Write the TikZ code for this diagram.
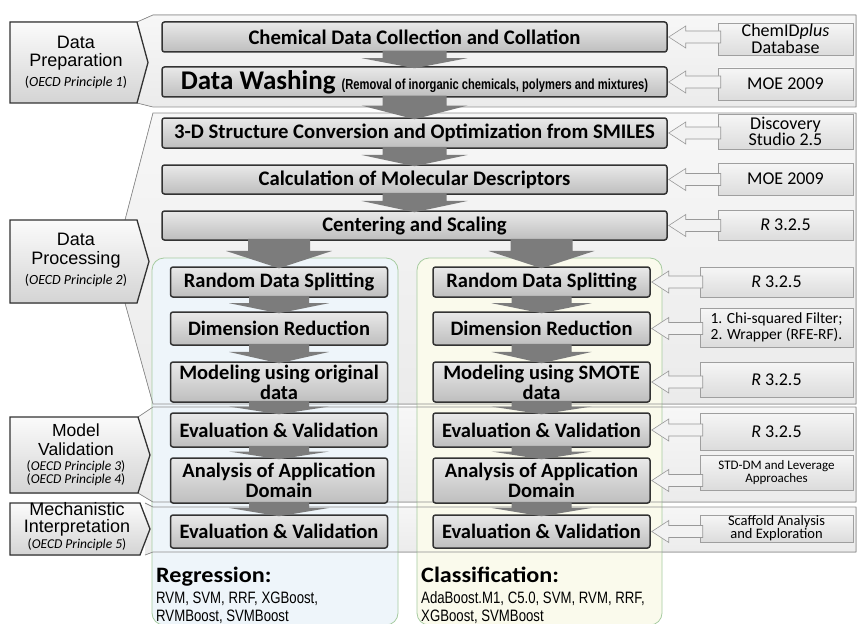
\documentclass[tikz,border=0pt]{standalone}
\usepackage{fontspec}
\usepackage{graphicx}
\setmainfont{Carlito}
\newfontfamily\arialf{Liberation Sans}
\usetikzlibrary{calc}

\definecolor{boxtop}{HTML}{E9E9E9}
\definecolor{boxbot}{HTML}{BEBEBE}
\definecolor{srctop}{HTML}{F6F6F6}
\definecolor{srcbot}{HTML}{DCDCDC}
\definecolor{paneltop}{HTML}{F7F7F7}
\definecolor{panelbot}{HTML}{EBEBEB}
\definecolor{panelline}{HTML}{8E8E8E}
\definecolor{arrowgray}{HTML}{7C7C7C}
\definecolor{colblue}{HTML}{EEF5FA}
\definecolor{colcream}{HTML}{FAFAEC}
\definecolor{colline}{HTML}{A6CBA0}
\definecolor{lbltop}{HTML}{FBFBFB}
\definecolor{lblbot}{HTML}{D4D4D4}

\tikzset{
  mainbox/.style={draw=black!80, line width=1.5pt, rounded corners=2.5pt,
    top color=boxtop, bottom color=boxbot, inner sep=0pt, align=center,
    font=\fontsize{20.7}{20}\selectfont\bfseries},
  widebox/.style={mainbox, minimum width=505, minimum height=30},
  colbox/.style={mainbox, minimum width=217, font=\fontsize{20.5}{20}\selectfont\bfseries},
  srcbox/.style={draw=gray!75, line width=0.6pt, top color=srctop,
    bottom color=srcbot, inner sep=0pt, align=center,
    font=\fontsize{18}{15}\selectfont},
  srcA/.style={srcbox, minimum width=135},
  srcB/.style={srcbox, minimum width=153},
  panelfill/.style={top color=paneltop, bottom color=panelbot},
  panelline/.style={draw=panelline, line width=0.7pt},
  lblshape/.style={draw=black!80, line width=1.3pt, top color=lbltop, bottom color=lblbot},
  lbltext/.style={anchor=base, inner sep=0pt, font=\arialf\fontsize{18}{18}\selectfont},
  lblsmall/.style={anchor=base, inner sep=0pt, font=\fontsize{14}{14}\selectfont},
  hollow/.style={draw=gray!80, line width=0.6pt, fill=white!90!gray},
  blockarrow/.style={fill=arrowgray},
  modeltext/.style={anchor=base west, inner sep=0pt, font=\arialf\fontsize{16.5}{16.5}\selectfont},
  headtext/.style={anchor=base west, inner sep=0pt, font=\bfseries\fontsize{22}{22}\selectfont}
}

% principle line under a stage label
\newcommand\principle[1]{(\textit{OECD Principle #1})}

% grey down arrow between two stacked boxes: from, to, shaft half-width, head half-width
\newcommand\dnarrow[4]{%
  \fill[blockarrow]
    ($(#1.south -| #2.north)+(-#3,-2)$) -- ($(#1.south -| #2.north)+(#3,-2)$)
    -- ($(#1.south -| #2.north)!0.4!(#2.north)+(#3,0)$)
    -- ($(#1.south -| #2.north)!0.4!(#2.north)+(#4,0)$)
    -- ($(#2.north)+(0,2)$)
    -- ($(#1.south -| #2.north)!0.4!(#2.north)+(-#4,0)$)
    -- ($(#1.south -| #2.north)!0.4!(#2.north)+(-#3,0)$) -- cycle;}

% outlined left arrow from a source box to a process box
\newcommand\hollowarrow[2]{%
  \filldraw[hollow]
    ($(#2.east)+(1,0)$) -- ($(#2.east)+(18,-11)$) -- ($(#2.east)+(18,-6)$)
    -- ($(#1.west |- #2.east)+(3,-6)$) -- ($(#1.west |- #2.east)+(3,6)$)
    -- ($(#2.east)+(18,6)$) -- ($(#2.east)+(18,11)$) -- cycle;}

\begin{document}
\begin{tikzpicture}[x=1pt,y=-1pt]
\useasboundingbox (0,0) rectangle (858,623);
\fill[white] (0,0) rectangle (858,623);

% stage panels (fill)
\fill[panelfill] (137,22) -- (153,15) -- (856,15) -- (856,107) -- (153,107) -- (137,103) -- cycle;
\fill[panelfill] (125,220) -- (153,113) -- (856,113) -- (856,404) -- (153,404) -- (125,303) -- cycle;
\fill[panelfill] (138,417) -- (153,407) -- (856,407) -- (856,502) -- (153,502) -- (138,493) -- cycle;
\fill[panelfill] (145,503) -- (153,507) -- (856,507) -- (856,552) -- (153,552) -- (145,555) -- cycle;

% regression / classification columns
\filldraw[fill=colblue, draw=colline, line width=0.8pt, rounded corners=12pt] (152,258) rectangle (398,625);
\filldraw[fill=colcream, draw=colline, line width=0.8pt, rounded corners=12pt] (417,258) rectangle (662,625);

% stage panels (outline)
\draw[panelline] (137,22) -- (153,15) -- (856,15) -- (856,107) -- (153,107) -- (137,103);
\draw[panelline] (125,220) -- (153,113) -- (856,113) -- (856,404) -- (153,404) -- (125,303);
\draw[panelline] (138,417) -- (153,407) -- (856,407) -- (856,502) -- (153,502) -- (138,493);
\draw[panelline] (145,503) -- (153,507) -- (856,507) -- (856,552) -- (153,552) -- (145,555);

% stage labels
\filldraw[lblshape] (10,22) -- (137,22) -- (148,62.5) -- (137,103) -- (10,103) -- cycle;
\filldraw[lblshape] (10,220) -- (137,220) -- (149,261.5) -- (137,303) -- (10,303) -- cycle;
\filldraw[lblshape] (10,417) -- (138,417) -- (150,455) -- (138,493) -- (10,493) -- cycle;
\filldraw[lblshape] (10,503) -- (140,503) -- (150,529) -- (140,555) -- (10,555) -- cycle;

\node[lbltext] (prepA) at (76,48.5) {Data};
\node[lbltext] (prepB) at (76,67) {Preparation};
\node[lblsmall] (prepC) at (76,87) {\principle{1}};

\node[lbltext] (procA) at (76,245.5) {Data};
\node[lbltext] (procB) at (76,264) {Processing};
\node[lblsmall] (procC) at (76,284) {\principle{2}};

\node[lbltext, font=\arialf\fontsize{17.5}{17.5}\selectfont] (valA) at (76,436) {Model};
\node[lbltext, font=\arialf\fontsize{17.5}{17.5}\selectfont] (valB) at (76,455) {Validation};
\node[lblsmall, font=\fontsize{13.5}{13.5}\selectfont] (valC) at (76,470) {\principle{3}};
\node[lblsmall, font=\fontsize{13.5}{13.5}\selectfont] (valD) at (76,483.5) {\principle{4}};

\node[lbltext] (mechA) at (77,515) {Mechanistic};
\node[lbltext] (mechB) at (77,532) {Interpretation};
\node[lblsmall, font=\fontsize{13.5}{13.5}\selectfont] (mechC) at (77,548) {\principle{5}};

% main pipeline boxes
\node[widebox] (chem) at (414.5,37) {Chemical Data Collection and Collation};
\node[widebox] (wash) at (414.5,82) {\fontsize{27}{27}\selectfont Data Washing {\arialf\fontsize{14.5}{14.5}\selectfont\scalebox{0.77}[1]{(Removal of inorganic chemicals, polymers and mixtures)}}};
\node[widebox] (conv) at (414.5,133) {3-D Structure Conversion and Optimization from SMILES};
\node[widebox, minimum height=29] (desc) at (414.5,179.5) {Calculation of Molecular Descriptors};
\node[widebox, minimum height=29] (cs) at (414.5,225.5) {Centering and Scaling};

% regression column
\node[colbox, minimum height=30] (rdsA) at (279,282) {Random Data Splitting};
\node[colbox, minimum height=33] (drA) at (279,328.5) {Dimension Reduction};
\node[colbox, minimum height=40] (modA) at (279,382) {Modeling using original\\data};
\node[colbox, minimum height=34] (evA) at (279,430) {Evaluation \& Validation};
\node[colbox, minimum height=45] (adA) at (279,480.5) {Analysis of Application\\Domain};
\node[colbox, minimum height=33] (miA) at (279,531.5) {Evaluation \& Validation};

% classification column
\node[colbox, minimum height=30] (rdsB) at (541.5,282) {Random Data Splitting};
\node[colbox, minimum height=33] (drB) at (541.5,328.5) {Dimension Reduction};
\node[colbox, minimum height=40] (modB) at (541.5,382) {Modeling using SMOTE\\data};
\node[colbox, minimum height=34] (evB) at (541.5,430) {Evaluation \& Validation};
\node[colbox, minimum height=45] (adB) at (541.5,480.5) {Analysis of Application\\Domain};
\node[colbox, minimum height=33] (miB) at (541.5,531.5) {Evaluation \& Validation};

% source / tool boxes
\node[srcA, minimum height=32] (sChem) at (785.5,39) {ChemID\textit{plus}\\Database};
\node[srcA, minimum height=32] (sMoeA) at (785.5,84) {MOE 2009};
\node[srcA, minimum height=35] (sDisc) at (785.5,131.5) {Discovery\\Studio 2.5};
\node[srcA, minimum height=32] (sMoeB) at (785.5,179) {MOE 2009};
\node[srcA, minimum height=30] (sRa) at (785.5,225) {\textit{R} 3.2.5};
\node[srcB, minimum height=30] (sRb) at (776.5,282) {\textit{R} 3.2.5};
\node[srcB, minimum height=39, font=\fontsize{15.5}{16}\selectfont] (sChi) at (776.5,327.5) {1. Chi-squared Filter;\\2. Wrapper (RFE-RF).};
\node[srcB, minimum height=35] (sRc) at (776.5,379.5) {\textit{R} 3.2.5};
\node[srcB, minimum height=37] (sRd) at (776.5,431.5) {\textit{R} 3.2.5};
\node[srcB, minimum height=35, font=\fontsize{13}{13}\selectfont] (sStd) at (776.5,472.5) {STD-DM and Leverage\\Approaches};
\node[srcB, minimum height=27, font=\fontsize{14.5}{13}\selectfont] (sScaf) at (776.5,528.5) {Scaffold Analysis\\and Exploration};

% flow arrows down the pipeline
\dnarrow{chem}{wash}{32}{53}
\dnarrow{wash}{conv}{32}{53}
\dnarrow{conv}{desc}{32}{53}
\dnarrow{desc}{cs}{32}{53}
\dnarrow{cs}{rdsA}{31}{53}
\dnarrow{cs}{rdsB}{31}{53}
\dnarrow{rdsA}{drA}{30}{50}
\dnarrow{drA}{modA}{30}{50}
\dnarrow{modA}{evA}{30}{50}
\dnarrow{evA}{adA}{30}{50}
\dnarrow{adA}{miA}{30}{50}
\dnarrow{rdsB}{drB}{30}{50}
\dnarrow{drB}{modB}{30}{50}
\dnarrow{modB}{evB}{30}{50}
\dnarrow{evB}{adB}{30}{50}
\dnarrow{adB}{miB}{30}{50}

% tool inputs
\hollowarrow{sChem}{chem}
\hollowarrow{sMoeA}{wash}
\hollowarrow{sDisc}{conv}
\hollowarrow{sMoeB}{desc}
\hollowarrow{sRa}{cs}
\hollowarrow{sRb}{rdsB}
\hollowarrow{sChi}{drB}
\hollowarrow{sRc}{modB}
\hollowarrow{sRd}{evB}
\hollowarrow{sStd}{adB}
\hollowarrow{sScaf}{miB}

% algorithm lists
\node[headtext] (regT) at (156,582) {\scalebox{1.1}[1]{Regression:}};
\node[modeltext] (regM1) at (156,603) {\scalebox{0.8}[1]{RVM, SVM, RRF, XGBoost,}};
\node[modeltext] (regM2) at (156,621) {\scalebox{0.8}[1]{RVMBoost, SVMBoost}};
\node[headtext] (clsT) at (421,582) {\scalebox{1.1}[1]{Classification:}};
\node[modeltext] (clsM1) at (421,603) {\scalebox{0.8}[1]{AdaBoost.M1, C5.0, SVM, RVM, RRF,}};
\node[modeltext] (clsM2) at (421,621) {\scalebox{0.8}[1]{XGBoost, SVMBoost}};
\end{tikzpicture}
\end{document}
